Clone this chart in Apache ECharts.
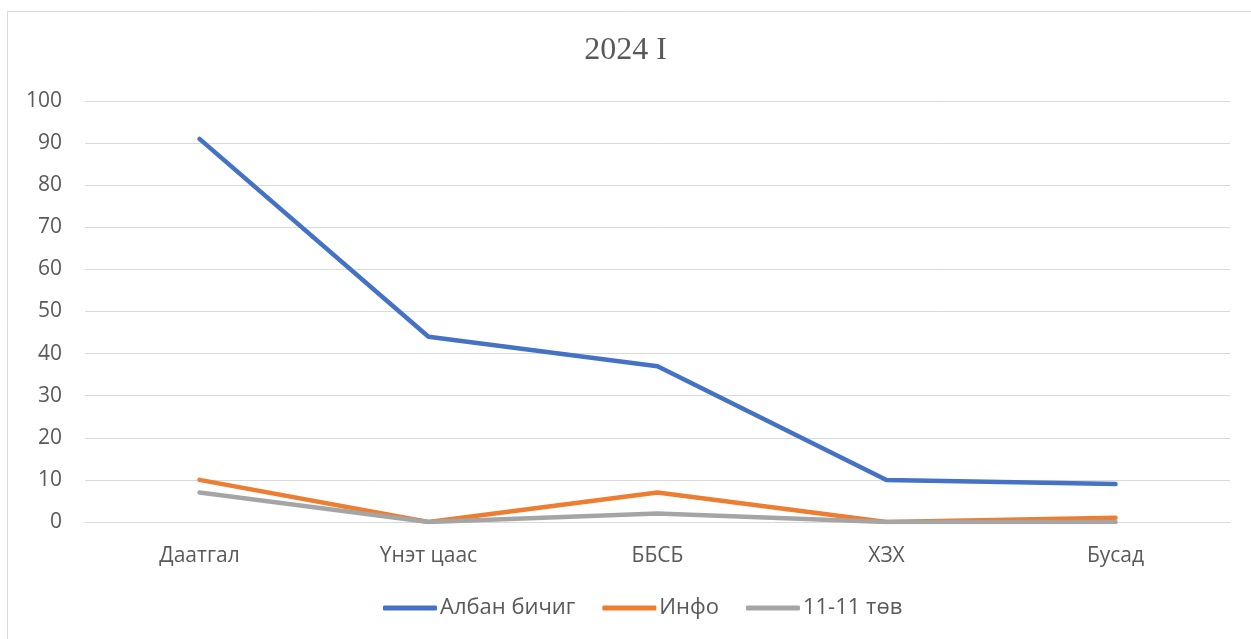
<!DOCTYPE html>
<html>
<head>
<meta charset="utf-8">
<script src="https://cdn.jsdelivr.net/npm/echarts@6/dist/echarts.min.js"></script>
<style>
html,body{margin:0;padding:0;background:#fff;}
#main{width:1251px;height:639px;}
</style>
</head>
<body>
<div id="main"></div>
<script>
const categories = ['Даатгал', 'Үнэт цаас', 'ББСБ', 'ХЗХ', 'Бусад'];
const seriesNames = ['Албан бичиг', 'Инфо', '11-11 төв'];
const albanBichig = [91, 44, 37, 10, 9];
const info = [10, 0, 7, 0, 1];
const tov1111 = [7, 0, 2, 0, 0];
const colors = ['#4472C4', '#ED7D31', '#A5A5A5'];
const seriesData = [albanBichig, info, tov1111];

const chart = echarts.init(document.getElementById('main'));
const font = '"Open Sans", "Liberation Sans", sans-serif';
chart.setOption({
  animation: false,
  backgroundColor: '#fff',
  graphic: [{
    type: 'rect',
    shape: { x: 7.5, y: 11.5, width: 1300, height: 700 },
    style: { fill: 'none', stroke: '#D9D9D9', lineWidth: 1 },
    silent: true
  }],
  title: {
    text: '2024 I',
    left: 'center',
    top: 30,
    textStyle: { fontFamily: '"Liberation Serif", "DejaVu Serif", serif', fontSize: 32, fontWeight: 'normal', color: '#595959' }
  },
  legend: {
    data: seriesNames,
    bottom: 15,
    left: 378,
    icon: 'roundRect',
    itemWidth: 54,
    itemHeight: 5,
    itemGap: 27,
    textStyle: { fontFamily: font, fontSize: 22, color: '#595959', padding: [0, 0, 0, -2] }
  },
  grid: { left: 85, right: 21, top: 101, bottom: 117 },
  xAxis: {
    type: 'category',
    data: categories,
    boundaryGap: true,
    axisLine: { show: true, lineStyle: { color: '#D9D9D9', width: 1 } },
    axisTick: { show: false },
    axisLabel: { fontFamily: font, fontSize: 21, color: '#595959', margin: 24 }
  },
  yAxis: {
    type: 'value',
    min: 0,
    max: 100,
    interval: 10,
    axisLine: { show: false },
    axisTick: { show: false },
    splitLine: { lineStyle: { color: '#D9D9D9', width: 1 } },
    axisLabel: { fontFamily: font, fontSize: 21, color: '#595959', margin: 23 }
  },
  series: seriesNames.map((n, i) => ({
    name: n,
    type: 'line',
    data: seriesData[i],
    symbol: 'none',
    color: colors[i],
    lineStyle: { width: 4.5, color: colors[i], cap: 'round', join: 'round' }
  }))
});
</script>
</body>
</html>
